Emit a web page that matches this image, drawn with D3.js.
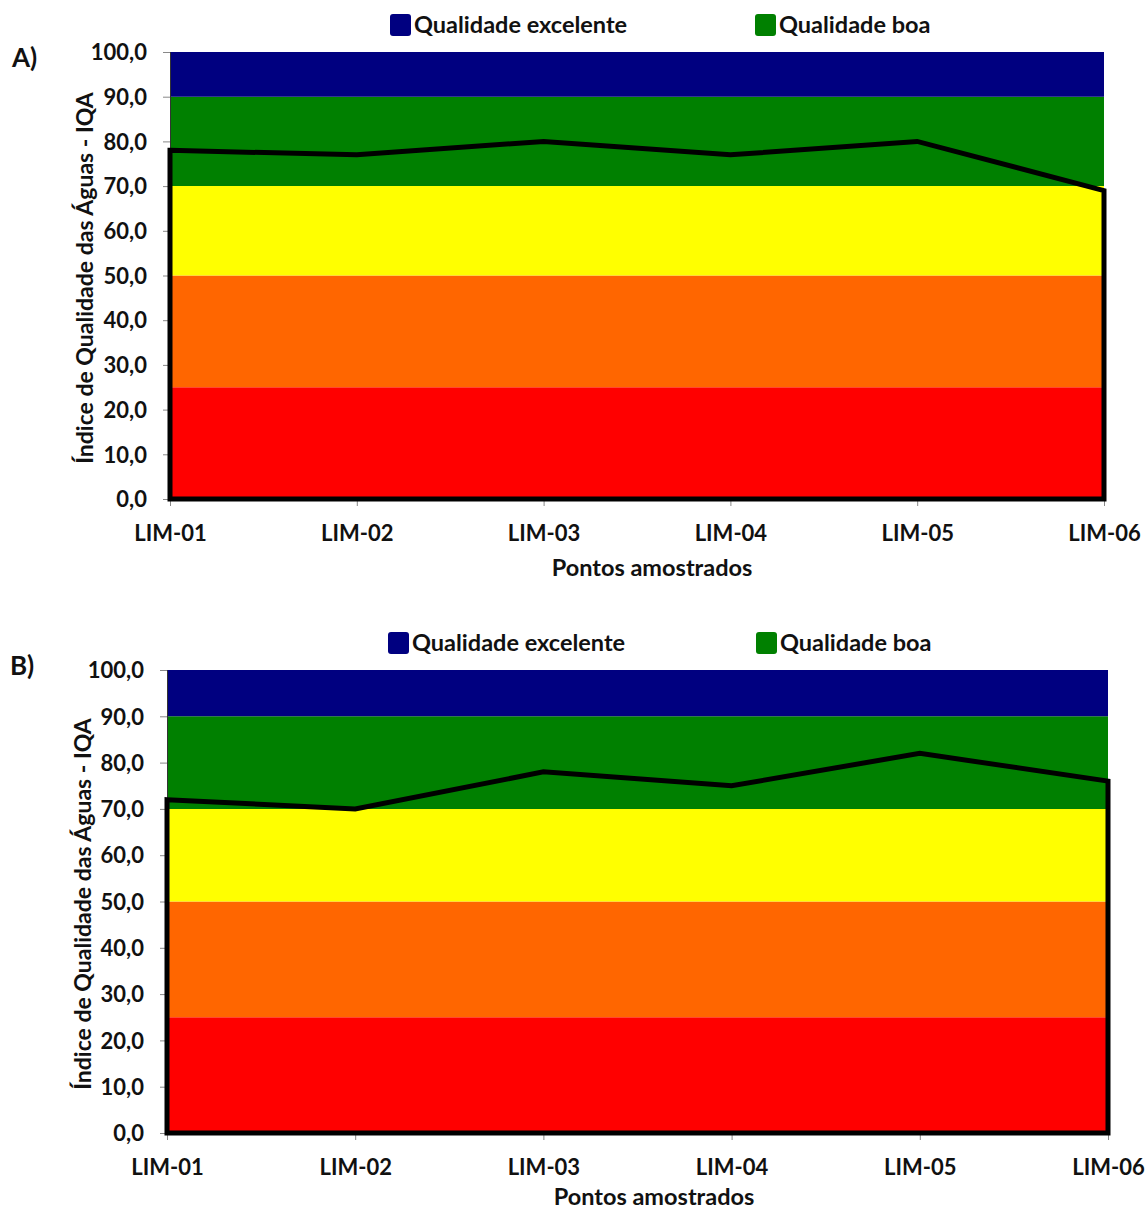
<!DOCTYPE html>
<html><head><meta charset="utf-8">
<script src="https://cdn.jsdelivr.net/npm/d3@7"></script>
<style>
html,body{margin:0;padding:0;background:#fff;}
svg text{font-family:Lato,"Open Sans",sans-serif;font-weight:700;fill:#111;}
</style></head>
<body>
<svg id="chart" width="1146" height="1212"></svg>
<script>
const categories = ["LIM-01","LIM-02","LIM-03","LIM-04","LIM-05","LIM-06"];
const bandNames = ["Qualidade péssima","Qualidade ruim","Qualidade regular","Qualidade boa","Qualidade excelente"];
const bandColors = ["#FF0000","#FF6600","#FFFF00","#008000","#000080"];
const bandHeights = [25,25,20,20,10]; // width of each quality class on the IQA scale
const iqaA = [78,77,80,77,80,69];
const iqaB = [72,70,78,75,82,76];
const yTicks = [0,10,20,30,40,50,60,70,80,90,100];
const legendItems = ["Qualidade excelente","Qualidade boa"];

const svg = d3.select("#chart");

function panel(cfg){
  const g = svg.append("g");
  const x = d3.scalePoint().domain(categories).range([cfg.x0, cfg.x1]);
  const y = d3.scaleLinear().domain([0,100]).range([cfg.y0, cfg.y1]);
  const rows = categories.map(c => {
    const r = {cat:c};
    bandNames.forEach((n,i)=> r[n]=bandHeights[i]);
    return r;
  });
  const stack = d3.stack().keys(bandNames)(rows);
  const area = d3.area().x(d=>x(d.data.cat)).y0(d=>y(d[0])).y1(d=>y(d[1]));
  g.selectAll(".band").data(stack).join("path")
    .attr("d", area).attr("fill",(d,i)=>bandColors[i]).attr("stroke","none");

  const ya = d3.axisLeft(y).tickValues(yTicks).tickSize(7).tickPadding(6)
    .tickFormat(d=>d3.format(".1f")(d).replace(".",","));
  const yg = g.append("g").attr("transform",`translate(${cfg.x0},0)`).call(ya);
  yg.select(".domain").attr("stroke","#333").attr("stroke-width",1);
  yg.selectAll(".tick line").attr("stroke","#888");
  yg.selectAll("text").attr("font-size",22).attr("dy","0.35em").attr("x",-cfg.tickLblOff);

  const xa = d3.axisBottom(x).tickSize(7).tickPadding(19);
  const xg = g.append("g").attr("transform",`translate(0,${cfg.y0})`).call(xa);
  xg.select(".domain").remove();
  xg.selectAll(".tick line").attr("stroke","#888");
  xg.selectAll("text").attr("font-size",22).attr("dy","0.71em");

  const iqa = categories.map((c,i)=>({cat:c,v:cfg.values[i]}));
  const outline = d3.area().x(d=>x(d.cat)).y0(y(0)).y1(d=>y(d.v));
  g.append("path").attr("d", outline(iqa))
    .attr("fill","none").attr("stroke","#000").attr("stroke-width",5).attr("stroke-linejoin","miter");

  g.append("text").attr("x",cfg.xTitleX).attr("y",cfg.xTitleY).attr("text-anchor","middle")
    .attr("font-size",23.5).text("Pontos amostrados");
  g.append("text").attr("transform",`translate(${cfg.yTitleX},${cfg.yTitleY}) rotate(-90)`)
    .attr("text-anchor","middle").attr("font-size",23).text("Índice de Qualidade das Águas - IQA");
  g.append("text").attr("x",cfg.lblX).attr("y",cfg.lblY).attr("font-size",26).text(cfg.label);

  legendItems.forEach((name,i)=>{
    const lx = cfg.legX[i];
    g.append("rect").attr("x",lx).attr("y",cfg.legY-11).attr("width",21).attr("height",22)
      .attr("rx",3).attr("fill", bandColors[bandNames.indexOf(name)]);
    g.append("text").attr("x",lx+24).attr("y",cfg.legY).attr("dy","0.35em")
      .attr("font-size",23.5).text(name);
  });
}

panel({values:iqaA, x0:170, x1:1104, y0:499, y1:52, tickLblOff:23,
  xTitleX:652, xTitleY:576, yTitleX:93, yTitleY:278, label:"A)", lblX:12, lblY:67,
  legX:[390,755], legY:25});
panel({values:iqaB, x0:167, x1:1108, y0:1133, y1:670, tickLblOff:23,
  xTitleX:654, xTitleY:1205, yTitleX:91, yTitleY:904, label:"B)", lblX:10, lblY:675,
  legX:[388,756], legY:643});
</script>
</body></html>
